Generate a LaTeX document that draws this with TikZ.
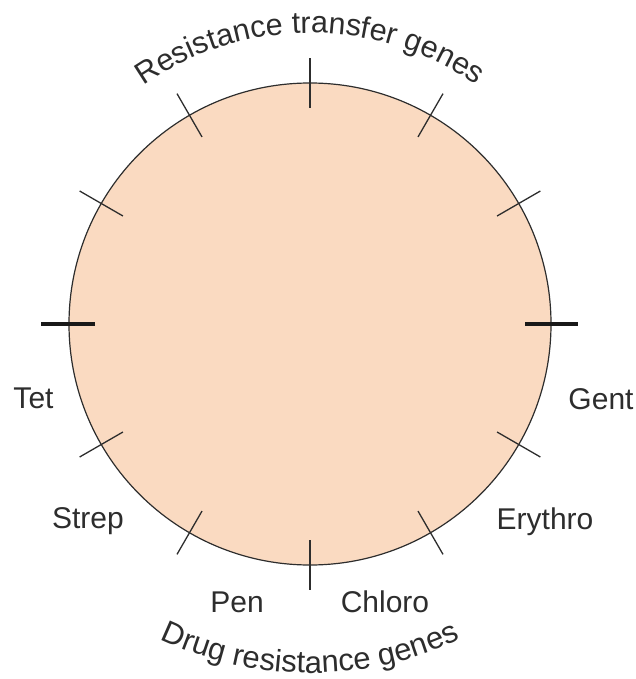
\documentclass[tikz,border=0pt]{standalone}
\usepackage{fontspec}
\setmainfont{Liberation Sans}
\usetikzlibrary{decorations.text}
\definecolor{peach}{RGB}{250,218,193}
\definecolor{ink}{RGB}{45,45,45}
\begin{document}
\begin{tikzpicture}[x=1pt,y=1pt,
  lbl/.style={font=\fontsize{30}{34}\selectfont, text=ink, inner sep=0pt, anchor=base},
  tick/.style={draw=ink, line width=1.3pt},
  thicktick/.style={draw=black!90, line width=4.5pt},
  arctext/.style 2 args={decorate, decoration={text along path, text align=center, text color=ink, text={|\fontsize{#1}{34}\selectfont|#2}}}]
\useasboundingbox (0,0) rectangle (636,-679);
\coordinate (c) at (310,-324);
\node[circle, draw=ink, fill=peach, minimum size=482pt, inner sep=0pt, line width=1.2pt] (plasmid) at (c) {};
\foreach \a in {30,60,90,120,150,210,240,270,300,330}
  \draw[tick, shift={(c)}] (\a:216) -- (\a:266);
\draw[thicktick, shift={(c)}] (0:215) -- (0:268);
\draw[thicktick, shift={(c)}] (180:215) -- (180:269);
\node[lbl] (tet) at (33.5,-408) {Tet};
\node[lbl] (gent) at (601,-409) {Gent};
\node[lbl] (strep) at (88,-528) {Strep};
\node[lbl] (erythro) at (545,-529) {Erythro};
\node[lbl] (pen) at (237,-612) {Pen};
\node[lbl] (chloro) at (385,-612) {Chloro};
\path[arctext={30.5}{Resistance transfer genes}, shift={(c)}] (150:291) arc[start angle=150, end angle=30, radius=291];
\path[arctext={31}{Drug resistance genes}, shift={(c)}] (210:349) arc[start angle=210, end angle=330, radius=349];
\end{tikzpicture}
\end{document}
